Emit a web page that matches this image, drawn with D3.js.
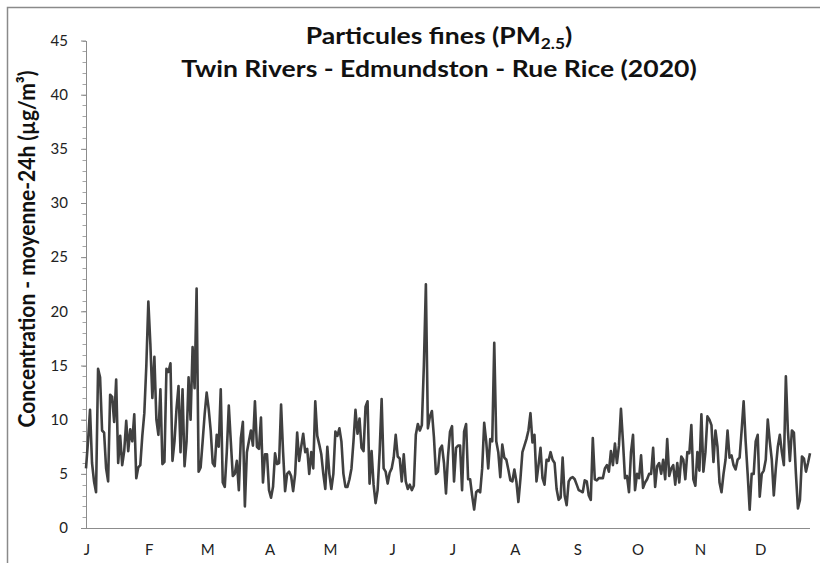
<!DOCTYPE html>
<html><head><meta charset="utf-8">
<script src="https://cdn.jsdelivr.net/npm/d3@7"></script>
<style>html,body{margin:0;padding:0;background:#fff;}svg{display:block;}</style>
</head><body><svg id="c" width="820" height="563"></svg>
<script>
const titleLine1 = "Particules fines (PM";
const titleSub = "2.5";
const titleLine2 = "Twin Rivers - Edmundston - Rue Rice (2020)";
const yTitle = "Concentration - moyenne-24h (µg/m³)";
const monthLabels = ["J","F","M","A","M","J","J","A","S","O","N","D"];
const yTicks = [0,5,10,15,20,25,30,35,40,45];
const startDate = new Date(2020,0,1);
const jan = [5.5,8,10.9,6,4.3,3.3,14.7,13.9,9.0,8.8,5.5,4.3,12.3,12.1,9.8,13.7,6.0,8.5,5.8,7.1,9.9,7.1,9.1,8.0,10.5,4.6,5.6,5.8,8.5,10.6,15];
const feb = [20.9,17,12,15.8,10,8.6,12.8,5.9,6.1,14.7,14.4,15.2,6.2,8,11,13.1,7,12.8,5.7,8,13.9,10,16.7,12.9,22.1,5.2,5.6,8,10.5];
const mar = [12.5,11,9,6,5.7,8.6,7.5,12.8,4.2,3.8,7,11.3,8,4.8,5,6.2,3.5,8.3,9.8,2,7,8,9,7.6,11.7,7.5,7.3,10.2,4.2,6.8,6.8];
const apr = [3.5,2.8,3.8,6.9,5.9,6,11.4,7,3.4,5,5.2,4.8,3.4,5,8.8,6.2,7.5,8.7,7,7.3,5,7,5.5,11.7,8.5,7.7,6.8,5,3.6,7.5];
const may = [5,3.6,5,8.9,8.5,9.2,8,5,3.8,3.8,4.5,5.5,8,10.9,8.7,10.1,7.4,7.1,11.2,11.7,4.1,7.1,4,2.3,3.5,7,11.9,5.5,5.2,4.1,5.1];
const jun = [5.5,6.5,8.6,6.6,6.4,4.3,6.8,4.3,3.6,4,3.5,3.9,8.6,9.6,9,9.5,15,22.5,9.2,10.3,10.8,8.4,5,5.2,7.3,7.6,6,3.2,6.6,8.9];
const jul = [9.4,4.3,7.4,7.6,7.6,3.5,8.9,9.6,4.5,4.5,3,1.7,3.3,3.5,3.3,5.5,9.7,8,5.5,8.2,8,17.1,8,7,4.7,7.7,6.5,6.3,5.4,4.4,4.3];
const aug = [5.4,4.3,2.4,4.5,7,7.6,8.2,9,10.6,7.9,8.6,4.3,5.8,7.4,4.6,4,6.3,6.2,7,6.3,6,3.6,2.6,2.8,6.5,3,2.1,4.3,4.6,4.7,4.5];
const sep = [4,3.5,3.4,3.3,4.4,4.3,3,2.6,8.3,4.5,4.4,4.6,4.6,4.6,5.5,5.8,5.2,7.1,5.8,7.8,6,7.6,11,8,4.6,4.8,3.3,7,8.6,3.5];
const oct = [5,4.6,6.7,3.7,4.2,4.5,5,5,7.4,3.8,5.7,6,5,6.3,4.5,8.2,4.8,5.5,5.8,4,6,4.2,6.6,6.3,4.5,7,6.9,9.5,4.5,3.9,7];
const nov = [5.3,10.5,5.2,7,10.3,10,9.5,6.1,9,7.5,4.2,3.3,5,6.3,9,6.5,6.7,5.8,5.4,6.3,6.5,9,11.7,8,5,1.7,5,5,8,8.6];
const dec = [2.9,5,5.3,6.3,10,8,6.3,3,5.5,7.5,8.6,7,5.8,14,9,6.2,9,8.8,5,1.8,2.6,6.6,6.4,5.2,6,6.9];

const values = [].concat(jan,feb,mar,apr,may,jun,jul,aug,sep,oct,nov,dec);
const data = values.map((v,i)=>({date:d3.timeDay.offset(startDate,i), v}));

const svg = d3.select("#c");
const font = "Lato, 'Open Sans', sans-serif";
const sx = 1.155;
svg.append("rect").attr("x",7.5).attr("y",7.5).attr("width",900).attr("height",700)
  .attr("fill","none").attr("stroke","#8a8a8a").attr("stroke-width",1.5);

const pLeft = 86, pRight = 810, pTop = 40.5, pBottom = 528;
const x = d3.scaleTime().domain([startDate, data[data.length-1].date]).range([pLeft, pRight]);
const y = d3.scaleLinear().domain([0,45]).range([pBottom, pTop]);

const minor = d3.range(0,46,1);
svg.append("g").selectAll("line").data(minor).join("line")
  .attr("x1",pLeft-3.5).attr("x2",pLeft).attr("y1",d=>Math.round(y(d))+0.5).attr("y2",d=>Math.round(y(d))+0.5)
  .attr("stroke","#a6a6a6").attr("stroke-width",1);
const yAxis = svg.append("g").attr("transform",`translate(${pLeft},0)`)
  .call(d3.axisLeft(y).tickValues(yTicks).tickSize(5).tickPadding(13).tickSizeOuter(0));
yAxis.select(".domain").attr("stroke","#8c8c8c");
yAxis.selectAll(".tick line").attr("stroke","#8c8c8c");
yAxis.selectAll("text").attr("font-family",font).attr("font-size",15).attr("fill","#222");

const monthStarts = d3.range(12).map(m=>new Date(2020,m,1));
svg.append("line").attr("x1",pLeft).attr("x2",pRight).attr("y1",pBottom+0.5).attr("y2",pBottom+0.5)
  .attr("stroke","#8c8c8c").attr("stroke-width",1.2);
svg.append("g").selectAll("text").data(monthStarts).join("text")
  .attr("x",d=>x(d)+1).attr("y",555).attr("text-anchor","middle")
  .attr("font-family",font).attr("font-size",15).attr("fill","#222")
  .text((d,i)=>monthLabels[i]);

svg.append("path").datum(data)
  .attr("d", d3.line().x(d=>x(d.date)).y(d=>y(d.v)))
  .attr("fill","none").attr("stroke","#404040").attr("stroke-width",2.6).attr("stroke-linejoin","round");

const t1 = svg.append("text").attr("transform",`translate(439,44) scale(${sx},1)`).attr("text-anchor","middle")
  .attr("font-family",font).attr("font-weight","bold").attr("font-size",23).attr("fill","#111");
t1.append("tspan").text(titleLine1);
t1.append("tspan").attr("font-size",15).attr("dy",5).text(titleSub);
t1.append("tspan").attr("dy",-5).text(")");
svg.append("text").attr("transform",`translate(439,77) scale(${sx},1)`).attr("text-anchor","middle")
  .attr("font-family",font).attr("font-weight","bold").attr("font-size",23).attr("fill","#111")
  .text(titleLine2);
svg.append("text").attr("transform",`translate(35,249) scale(${sx},1) rotate(-90)`).attr("text-anchor","middle")
  .attr("font-family",font).attr("font-weight","bold").attr("font-size",20).attr("fill","#111")
  .attr("textLength",357).attr("lengthAdjust","spacingAndGlyphs")
  .text(yTitle);
</script></body></html>
